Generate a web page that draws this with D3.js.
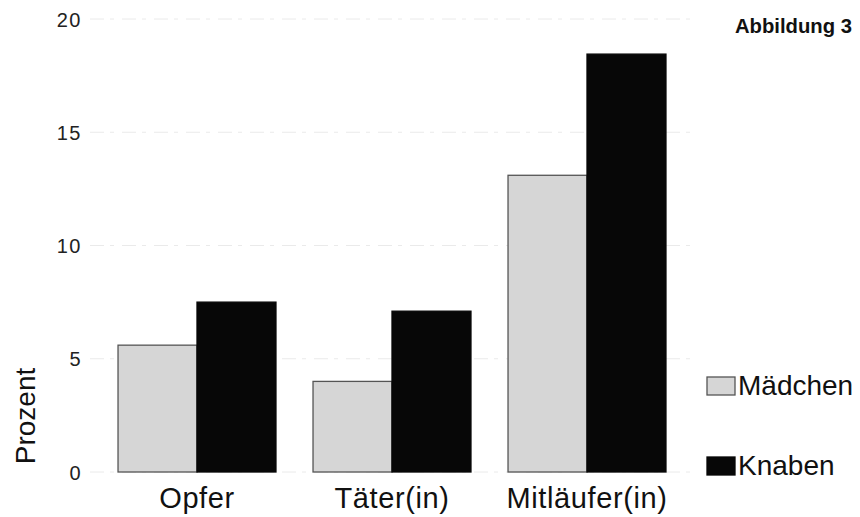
<!DOCTYPE html>
<html>
<head>
<meta charset="utf-8">
<script src="https://cdn.jsdelivr.net/npm/d3@7"></script>
<style>
  html, body { margin: 0; padding: 0; background: #fff; }
  svg { display: block; font-family: Arial, "Liberation Sans", Helvetica, sans-serif; }
</style>
</head>
<body>
<svg id="chart" width="860" height="517"></svg>
<script>
// data (Prozent)
var categories = ["Opfer", "Täter(in)", "Mitläufer(in)"];
var seriesNames = ["Mädchen", "Knaben"];
var maedchen = [5.6, 4.0, 13.1];
var knaben = [7.5, 7.1, 18.45];
var yTicks = [0, 5, 10, 15, 20];

var colors = { "Mädchen": "#d6d6d6", "Knaben": "#070707" };
var series = [maedchen, knaben];

var svg = d3.select("#chart");

var x = d3.scaleBand().domain(categories).range([99.5, 684.5]).paddingInner(0.19).paddingOuter(0.095);
var xs = d3.scaleBand().domain(seriesNames).range([0, x.bandwidth()]);
var y = d3.scaleLinear().domain([0, 20]).range([472, 19]);

// faint grid lines (barely visible in the scan)
svg.append("g").selectAll("line").data(yTicks).enter().append("line")
  .attr("x1", 90).attr("x2", 690)
  .attr("y1", function (d) { return y(d); }).attr("y2", function (d) { return y(d); })
  .attr("stroke", "#e4e4e4").attr("stroke-width", 0.8)
  .attr("stroke-dasharray", "14,6,4,8");

// y tick labels
var yAxis = d3.axisLeft(y).tickValues(yTicks).tickSize(0).tickPadding(0).tickFormat(d3.format("d"));
var ya = svg.append("g").attr("transform", "translate(82,0)").call(yAxis);
ya.select(".domain").remove();
ya.selectAll("text").attr("font-size", 20).attr("fill", "#222").attr("dy", "0.36em")
  .style("letter-spacing", "1.5px");

// bars
var groups = svg.append("g").selectAll("g").data(categories).enter().append("g")
  .attr("transform", function (c) { return "translate(" + x(c) + ",0)"; });
groups.selectAll("rect").data(function (c, i) {
    return seriesNames.map(function (s, j) { return { s: s, v: series[j][i] }; });
  }).enter().append("rect")
  .attr("x", function (d) { return xs(d.s); })
  .attr("width", xs.bandwidth())
  .attr("y", function (d) { return y(d.v); })
  .attr("height", function (d) { return y(0) - y(d.v); })
  .attr("fill", function (d) { return colors[d.s]; })
  .attr("stroke", function (d) { return d.s === "Knaben" ? "#070707" : "#555"; })
  .attr("stroke-width", 1.3);

// x category labels
var xAxis = d3.axisBottom(x).tickSize(0).tickPadding(0);
var xa = svg.append("g").attr("transform", "translate(0,508)").call(xAxis);
xa.select(".domain").remove();
xa.selectAll("text").attr("font-size", 29).attr("fill", "#111").attr("dy", 0)
  .style("letter-spacing", "0.6px");

// y axis title
svg.append("text")
  .attr("transform", "translate(35,416) rotate(-90)")
  .attr("text-anchor", "middle")
  .attr("font-size", 28).attr("fill", "#111")
  .text("Prozent");

// legend
var legend = svg.append("g").selectAll("g").data(seriesNames).enter().append("g")
  .attr("transform", function (d, i) { return "translate(707," + (377 + i * 80) + ")"; });
legend.append("rect").attr("width", 28).attr("height", 18)
  .attr("fill", function (d) { return colors[d]; })
  .attr("stroke", function (d) { return d === "Knaben" ? "#070707" : "#555"; })
  .attr("stroke-width", 1.3);
legend.append("text").attr("x", 31).attr("y", 18)
  .attr("font-size", 28).attr("fill", "#111")
  .text(function (d) { return d; });

// figure label
svg.append("text")
  .attr("x", 735).attr("y", 33)
  .attr("font-family", "'Liberation Sans Narrow', 'Arial Narrow', Arial, sans-serif")
  .attr("font-weight", "bold").attr("font-size", 21).attr("fill", "#111")
  .attr("textLength", 117).attr("lengthAdjust", "spacingAndGlyphs")
  .text("Abbildung 3");
</script>
</body>
</html>
